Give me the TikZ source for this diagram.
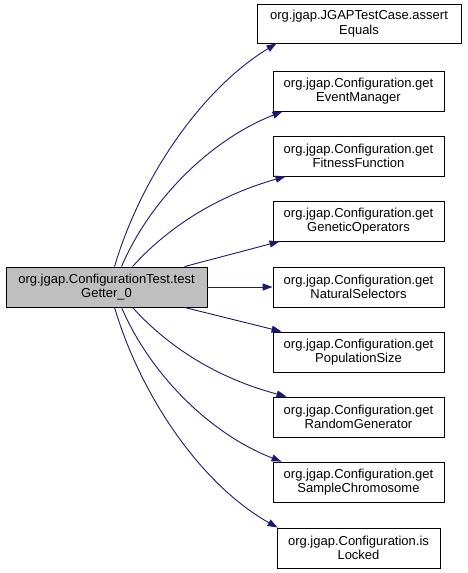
\documentclass[tikz,border=0pt]{standalone}
\usepackage{fontspec}
\setmainfont{Liberation Sans}
\usetikzlibrary{arrows.meta}
\definecolor{edgeblue}{HTML}{191970}
\definecolor{maingray}{HTML}{BFBFBF}
\tikzset{
  fn/.style={draw=black, line width=0.9pt, fill=white, align=center, minimum height=40pt, inner sep=0pt,
    font=\fontsize{13}{14.3}\selectfont},
  mainfn/.style={fn, fill=maingray},
  call/.style={draw=edgeblue, line width=0.9pt, -{Triangle[length=10pt,width=7pt]}},
}
\begin{document}
\begin{tikzpicture}[x=1pt,y=-1pt]
\useasboundingbox (0,0) rectangle (467,573);
\node[mainfn, minimum width=201pt] (m) at (106.5,287) {org.jgap.ConfigurationTest.test\\Getter\_0};
\node[fn, minimum width=204pt, minimum height=39pt] (t1) at (359,23.5) {org.jgap.JGAPTestCase.assert\\Equals};
\node[fn, minimum width=171pt] (t2) at (358.5,91) {org.jgap.Configuration.get\\EventManager};
\node[fn, minimum width=171pt] (t3) at (358.5,156) {org.jgap.Configuration.get\\FitnessFunction};
\node[fn, minimum width=171pt] (t4) at (358.5,221) {org.jgap.Configuration.get\\GeneticOperators};
\node[fn, minimum width=171pt] (t5) at (358.5,287) {org.jgap.Configuration.get\\NaturalSelectors};
\node[fn, minimum width=171pt] (t6) at (358.5,352) {org.jgap.Configuration.get\\PopulationSize};
\node[fn, minimum width=171pt] (t7) at (358.5,417) {org.jgap.Configuration.get\\RandomGenerator};
\node[fn, minimum width=171pt] (t8) at (358.5,482) {org.jgap.Configuration.get\\SampleChromosome};
\node[fn, minimum width=163pt] (t9) at (358.5,548) {org.jgap.Configuration.is\\Locked};

\draw[call] ([xshift=109]m.north west) .. controls (140,180) and (200,90) .. ([xshift=20]t1.south west);
\draw[call] ([xshift=116]m.north west) .. controls (150,200) and (210,140) .. ([xshift=10]t2.south west);
\draw[call] ([xshift=127]m.north west) .. controls (170,225) and (220,195) .. ([xshift=13]t3.south west);
\draw[call] ([xshift=179]m.north west) -- ([xshift=7]t4.south west);
\draw[call] (m.east) -- (t5.west);
\draw[call] ([xshift=179]m.south west) -- ([xshift=9]t6.north west);
\draw[call] ([xshift=127]m.south west) .. controls (170,349) and (220,379) .. ([xshift=14]t7.north west);
\draw[call] ([xshift=116]m.south west) .. controls (150,374) and (210,434) .. ([xshift=9]t8.north west);
\draw[call] ([xshift=109]m.south west) .. controls (140,394) and (200,484) .. ([xshift=1]t9.north west);
\end{tikzpicture}
\end{document}
